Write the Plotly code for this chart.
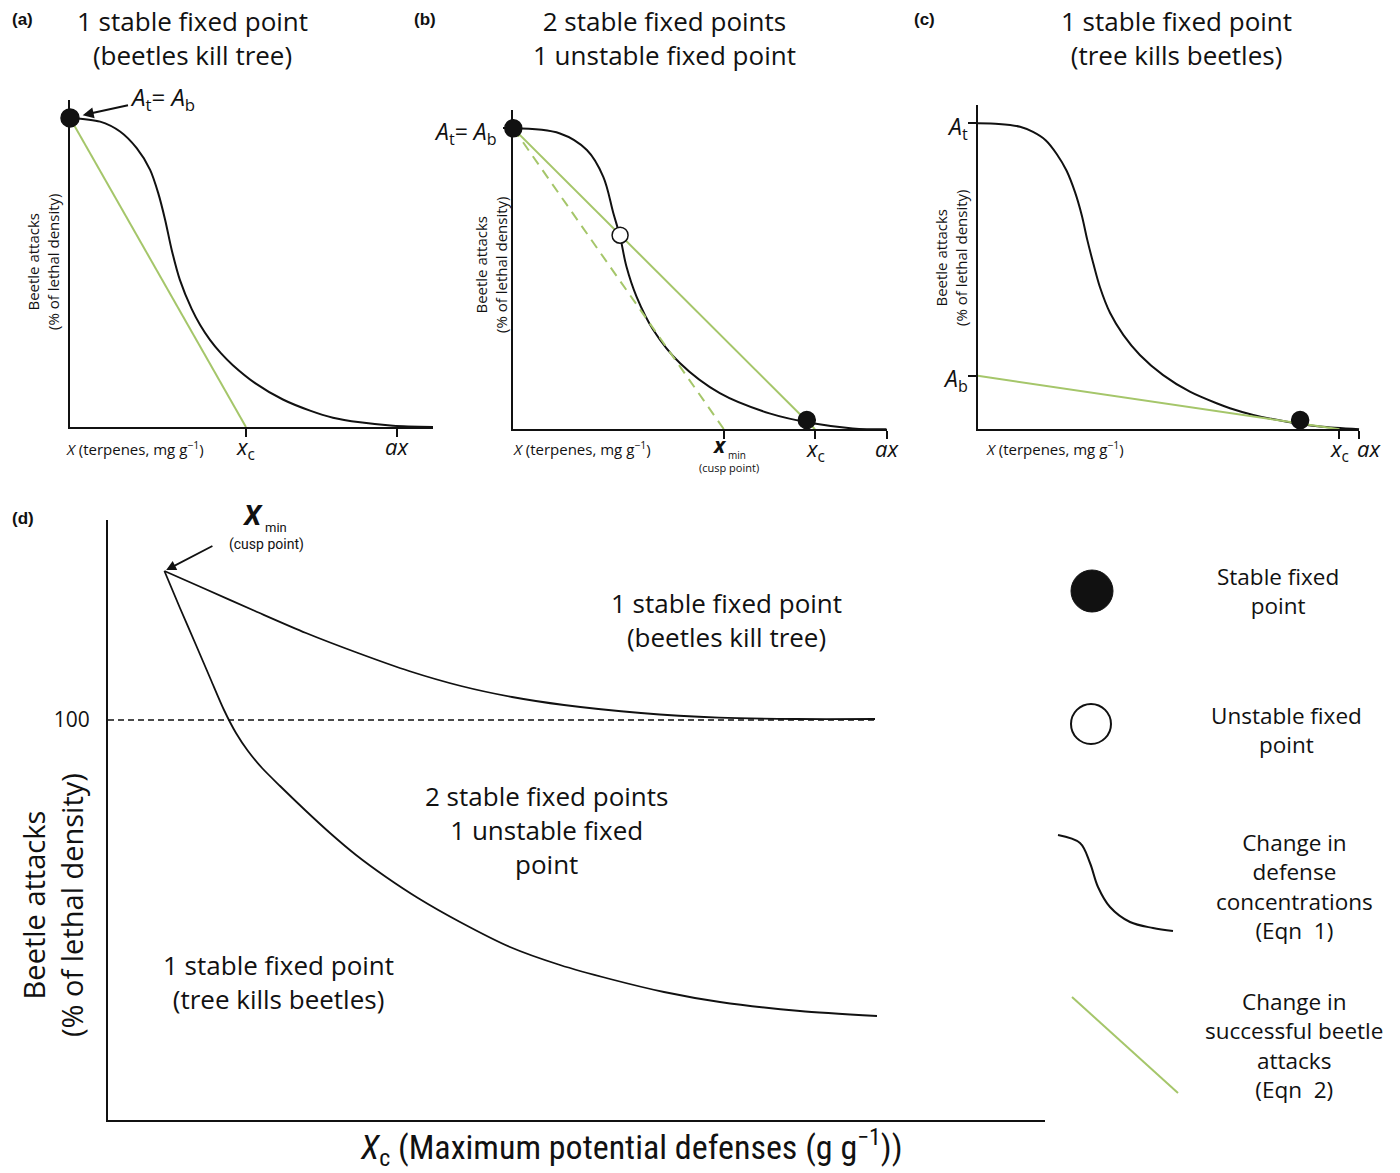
import plotly.graph_objects as go

W, H = 1400, 1173

# ---------------- data (normalised units) ----------------
# Panels (a)-(c): x 0..100 (100 = ax), y 0..100 (100 = A_t)
a_curve_x = [0, 9.2, 15.3, 20.4, 24.5, 27.0, 29.1, 31.1, 33.6, 37.2, 39.8, 42.8, 46.2, 49.8, 56.6, 65.1,
             73.4, 80.4, 88.7, 98.8, 111]
a_curve_y = [100, 98.8, 95.6, 90.2, 83.2, 75.6, 67.0, 57.3, 47.6, 38.2, 33.0, 28.2, 23.8, 20.0, 14.2, 8.9,
             5.3, 3.0, 1.5, 0.4, 0]
a_Ab, a_xc = 100, 53.8
a_stable_x, a_stable_y = [0], [100]

b_curve_x = [0, 12.5, 19.7, 24.1, 26.8, 28.6, 30.3, 33.0, 37.5, 44.6, 55.3, 68.6, 80.2, 90.9, 100]
b_curve_y = [100, 98.3, 92.8, 83.9, 71.8, 64.0, 54.1, 44.1, 33.0, 22.0, 12.0, 5.3, 2.0, 0.3, 0]
b_Ab, b_xc, b_xmin = 100, 80.8, 56.4
b_stable_x, b_stable_y = [0, 78.6], [100, 3.1]
b_unstable_x, b_unstable_y = [28.6], [64.5]

c_curve_x = [0, 5.5, 11.1, 14.5, 17.8, 20.7, 23.3, 25.5, 27.3, 28.7, 30.3, 32.0, 34.7, 38.2, 42.5,
             48.6, 55.6, 62.6, 66.1, 72.2, 81.0, 89.7, 100]
c_curve_y = [100, 99.8, 98.9, 97.2, 94.5, 90.0, 84.5, 77.5, 69.8, 62.0, 54.2, 46.6, 38.0, 30.8, 24.3,
             17.7, 12.3, 8.5, 6.9, 4.7, 2.5, 0.9, 0]
c_At, c_Ab, c_xc = 100, 17.5, 94.8
c_stable_x, c_stable_y = [84.5], [3.0]

# Panel (d): x = X_c (0..100 arbitrary), y = beetle attacks (% of lethal density)
d_upper_x = [6.02, 10.14, 15.69, 21.13, 26.68, 32.12, 37.67, 43.12, 48.67, 56.88, 65.21, 73.43, 81.86]
d_upper_y = [137.25, 133.0, 127.25, 121.75, 116.75, 112.25, 108.5, 105.75, 103.75, 101.75, 100.6, 100.25, 100.25]
d_lower_x = [6.02, 7.68, 9.39, 10.99, 12.38, 13.66, 14.94, 16.44, 18.36, 21.02, 23.69, 26.47, 29.67,
             33.08, 37.57, 42.90, 48.24, 53.58, 59.34, 65.31, 73.85, 82.07]
d_lower_y = [137.25, 128.0, 118.75, 110.0, 102.5, 96.75, 92.25, 88.0, 83.5, 77.5, 71.75, 66.25, 60.75,
             55.5, 49.5, 43.25, 38.75, 35.25, 32.0, 29.5, 27.25, 26.0]
d_lethal = 100
d_line_end = 81.9

# legend glyphs (page pixels)
leg_curve_x = [1058, 1080, 1090, 1098, 1110, 1130, 1153, 1173]
leg_curve_y = [835, 843, 863, 887, 907, 922, 928, 931]
leg_green_x = [1072, 1178]
leg_green_y = [997, 1093]

BLACK = "#111111"
GREEN = "#a5c66a"
FONT = "Open Sans"


def px(x, y):
    return x / W, 1 - y / H


fig = go.Figure()


def line(xs, ys, ax, color=BLACK, width=2, dash=None, shape="spline", smoothing=1.0):
    fig.add_trace(go.Scatter(x=xs, y=ys, xaxis="x" + ax, yaxis="y" + ax, mode="lines",
                             line=dict(color=color, width=width, dash=dash, shape=shape, smoothing=smoothing),
                             hoverinfo="skip", showlegend=False, cliponaxis=False))


def dots(xs, ys, ax, filled=True, size=17, lw=1.5):
    fig.add_trace(go.Scatter(x=xs, y=ys, xaxis="x" + ax, yaxis="y" + ax, mode="markers",
                             marker=dict(size=size, color=BLACK if filled else "white", opacity=1,
                                         line=dict(color=BLACK, width=lw)),
                             hoverinfo="skip", showlegend=False, cliponaxis=False))


# panel a
line(a_curve_x, a_curve_y, "", smoothing=0.8)
line([0, a_xc], [a_Ab, 0], "", color=GREEN, shape="linear")
dots(a_stable_x, a_stable_y, "", size=18)
# panel b
line(b_curve_x, b_curve_y, "2")
line([0, b_xmin], [b_Ab, 0], "2", color=GREEN, dash="10px,7px", shape="linear")
line([0, b_xc], [b_Ab, 0], "2", color=GREEN, shape="linear")
dots(b_stable_x, b_stable_y, "2")
dots(b_unstable_x, b_unstable_y, "2", filled=False, size=16)
# panel c
line(c_curve_x, c_curve_y, "3", smoothing=0.8)
line([0, c_xc], [c_Ab, 0], "3", color=GREEN, shape="linear")
dots(c_stable_x, c_stable_y, "3")
# panel d
line([0, d_line_end], [d_lethal, d_lethal], "4", width=1.5, dash="6px,4px", shape="linear")
line(d_upper_x, d_upper_y, "4", width=1.8, smoothing=0.8)
line(d_lower_x, d_lower_y, "4", width=1.8, smoothing=0.7)
# legend glyphs on an overlay pixel axis
line(leg_curve_x, leg_curve_y, "5", width=2)
line(leg_green_x, leg_green_y, "5", color=GREEN, width=2, shape="linear")
dots([1092], [591], "5", filled=True, size=42, lw=1)
dots([1091], [724], "5", filled=False, size=40, lw=2)

axline = dict(showline=True, linecolor=BLACK, linewidth=2, showgrid=False, zeroline=False,
              ticks="outside", ticklen=8, tickwidth=1.5, tickcolor=BLACK, showticklabels=False,
              fixedrange=True)


def dom_x(a, b):
    return [a / W, b / W]


def dom_y(top, bottom):
    return [1 - bottom / H, 1 - top / H]


fig.update_layout(
    width=W, height=H, margin=dict(l=0, r=0, t=0, b=0),
    paper_bgcolor="white", plot_bgcolor="rgba(0,0,0,0)", showlegend=False,
    xaxis=dict(axline, domain=dom_x(70, 433), range=[0, 111], tickvals=[a_xc, 100], anchor="y"),
    yaxis=dict(axline, domain=dom_y(100, 427), range=[0, 105.8], tickvals=[], anchor="x"),
    xaxis2=dict(axline, domain=dom_x(513.3, 886.7), range=[0, 100], tickvals=[b_xmin, b_xc, 100], anchor="y2"),
    yaxis2=dict(axline, domain=dom_y(110, 429.3), range=[0, 106.1], tickvals=[b_Ab], anchor="x2"),
    xaxis3=dict(axline, domain=dom_x(977.7, 1359.3), range=[0, 100], tickvals=[c_xc, 100], anchor="y3"),
    yaxis3=dict(axline, domain=dom_y(105, 429.3), range=[0, 106.0], tickvals=[c_At, c_Ab], anchor="x3"),
    xaxis4=dict(axline, domain=dom_x(108, 1045), range=[0, 100], tickvals=[], ticks="", anchor="y4"),
    yaxis4=dict(axline, domain=dom_y(520, 1120), range=[0, 150], tickvals=[d_lethal], ticktext=["100"],
                ticks="", showticklabels=True, ticklabelstandoff=12,
                tickfont=dict(family=FONT, size=21, color=BLACK), anchor="x4"),
    xaxis5=dict(domain=[0, 1], range=[0, W], visible=False, fixedrange=True, anchor="y5"),
    yaxis5=dict(domain=[0, 1], range=[H, 0], visible=False, fixedrange=True, anchor="x5"),
)

ann = []


def text(x, y, t, size=22, family=FONT, xanchor="center", yanchor="middle", angle=0, color=BLACK):
    X, Y = px(x, y)
    ann.append(dict(x=X, y=Y, xref="paper", yref="paper", text=t, showarrow=False,
                    font=dict(family=family, size=size, color=color), xanchor=xanchor,
                    yanchor=yanchor, textangle=angle, align="center"))


# panel letters
for lx, ly, lt in [(10, 20, "(a)"), (412, 20, "(b)"), (912, 20, "(c)"), (10, 518, "(d)")]:
    text(lx, ly, "<b>" + lt + "</b>", size=17, family="Liberation Sans", xanchor="left")

# panel titles
text(193, 38, "1 stable fixed point<br>(beetles kill tree)", size=26)
text(664, 38, "2 stable fixed points<br>1 unstable fixed point", size=26)
text(1176, 38, "1 stable fixed point<br>(tree kills beetles)", size=26)

# small axis titles
for cx, cy in [(43, 262), (491, 265), (951, 258)]:
    text(cx, cy, "Beetle attacks<br>(% of lethal density)", size=15, angle=-90)
for lx in [64, 511, 984]:
    text(lx, 449, "<i>X</i> (terpenes, mg g<sup>−1</sup>)", size=15, xanchor="left")


# x tick labels (data anchored)
def tick_label(xval, axis, t, size=22, yshift=-2, xanchor="center", xshift=0):
    ann.append(dict(x=xval, y=0, xref="x" + axis, yref="y" + axis, text=t, showarrow=False,
                    font=dict(family=FONT, size=size, color=BLACK), xanchor=xanchor,
                    yanchor="top", yshift=yshift, xshift=xshift))


tick_label(a_xc, "", "<i>x</i><sub>c</sub>")
tick_label(100, "", "<i>ax</i>")
tick_label(b_xc, "2", "<i>x</i><sub>c</sub>")
tick_label(100, "2", "<i>ax</i>")
tick_label(c_xc, "3", "<i>x</i><sub>c</sub>")
tick_label(100, "3", "<i>ax</i>", xanchor="left", xshift=-4)
# x_min (cusp point) in (b)
text(720, 445, "<b><i>x</i></b>", size=21)
text(737, 455, "min", size=10)
text(729, 467, "(cusp point)", size=11)

# y tick labels
ann.append(dict(x=0, y=b_Ab, xref="x2", yref="y2", text="<i>A</i><sub>t</sub>= <i>A</i><sub>b</sub>",
                showarrow=False, font=dict(family=FONT, size=23, color=BLACK), xanchor="right",
                yanchor="middle", xshift=-14, yshift=-4))
ann.append(dict(x=0, y=c_At, xref="x3", yref="y3", text="<i>A</i><sub>t</sub>",
                showarrow=False, font=dict(family=FONT, size=23, color=BLACK), xanchor="right",
                yanchor="middle", xshift=-8, yshift=-4))
ann.append(dict(x=0, y=c_Ab, xref="x3", yref="y3", text="<i>A</i><sub>b</sub>",
                showarrow=False, font=dict(family=FONT, size=23, color=BLACK), xanchor="right",
                yanchor="middle", xshift=-8, yshift=-4))

# arrow in (a)
ann.append(dict(x=0, y=a_Ab, xref="x", yref="y", text="<i>A</i><sub>t</sub>= <i>A</i><sub>b</sub>",
                showarrow=True, ax=92, ay=-20, arrowhead=2, arrowsize=1.1, arrowwidth=2,
                arrowcolor=BLACK, standoff=13, font=dict(family=FONT, size=24, color=BLACK)))

# panel (d) texts
ann.append(dict(x=d_upper_x[0], y=d_upper_y[0], xref="x4", yref="y4", text=" ", showarrow=True,
                ax=50, ay=-26, arrowhead=2, arrowsize=1.1, arrowwidth=1.8, arrowcolor=BLACK,
                standoff=2, font=dict(size=4)))
text(252, 515, "<b><i>X</i></b>", size=28, family="Roboto")
text(276, 527, "min", size=13, family="Roboto")
text(266, 544, "(cusp point)", size=14, family="Roboto")
text(727, 620, "1 stable fixed point<br>(beetles kill tree)", size=26)
text(546, 830, "2 stable fixed points<br>1 unstable fixed<br>point", size=26)
text(278, 982, "1 stable fixed point<br>(tree kills beetles)", size=26)
text(52, 905, "Beetle attacks<br>(% of lethal density)", size=29, angle=-90)
text(631, 1147, "<i>X</i><sub>c</sub> (Maximum potential defenses (g g<sup>−1</sup>))", size=34,
     family="Liberation Sans Narrow, Roboto Condensed, Open Sans")

# legend texts
text(1278, 591, "Stable fixed<br>point", size=22.5)
text(1286, 730, "Unstable fixed<br>point", size=22.5)
text(1294, 887, "Change in<br>defense<br>concentrations<br>(Eqn  1)", size=22.5)
text(1294, 1045, "Change in<br>successful beetle<br>attacks<br>(Eqn  2)", size=22.5)

fig.update_layout(annotations=ann)
fig.write_html("out.html", config={"displayModeBar": False},
               post_script="document.body.style.margin='0';document.body.style.overflow='hidden';")
